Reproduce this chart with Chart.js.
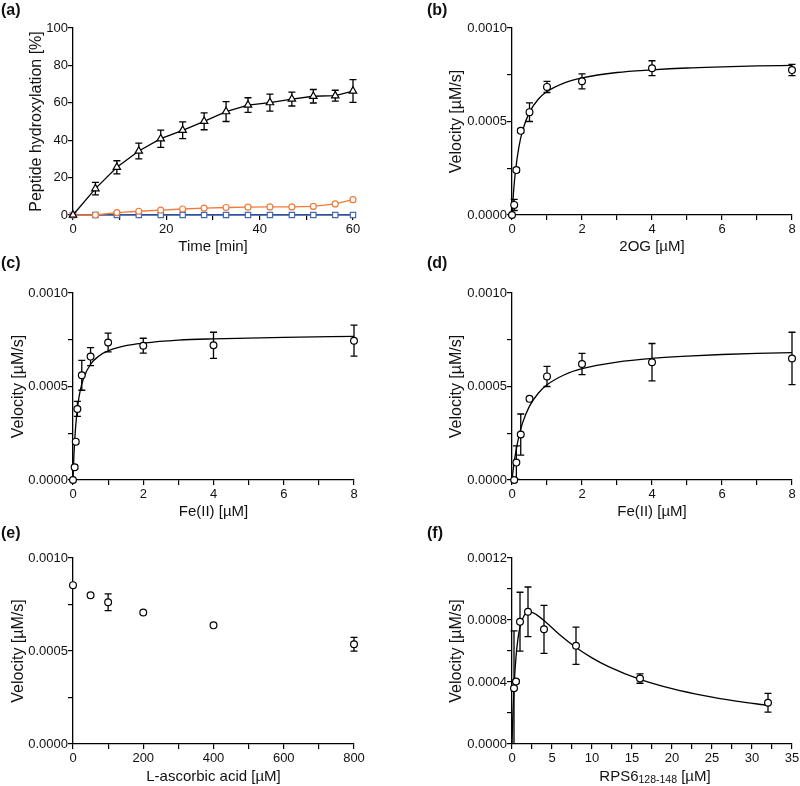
<!DOCTYPE html>
<html>
<head>
<meta charset="utf-8">
<script src="https://cdn.jsdelivr.net/npm/chart.js@4.4.0/dist/chart.umd.min.js"></script>
<style>
  body { margin: 0; background: #fff; }
  #fig { position: relative; width: 800px; height: 786px; font-family: 'Liberation Sans', Arial, sans-serif; }
  canvas { position: absolute; }
  .tag { position: absolute; font-weight: bold; font-size: 16px; color: #111; }
</style>
</head>
<body>
<div id="fig">
  <canvas id="pa" width="400" height="256" style="left:0;top:0"></canvas>
  <canvas id="pb" width="400" height="256" style="left:400px;top:0"></canvas>
  <canvas id="pc" width="400" height="256" style="left:0;top:265px"></canvas>
  <canvas id="pd" width="400" height="256" style="left:400px;top:265px"></canvas>
  <canvas id="pe" width="400" height="256" style="left:0;top:530px"></canvas>
  <canvas id="pf" width="400" height="256" style="left:400px;top:530px"></canvas>
  <div class="tag" style="left:1px;top:1px">(a)</div>
  <div class="tag" style="left:427px;top:1px">(b)</div>
  <div class="tag" style="left:1px;top:254px">(c)</div>
  <div class="tag" style="left:427px;top:254px">(d)</div>
  <div class="tag" style="left:1px;top:524px">(e)</div>
  <div class="tag" style="left:427px;top:524px">(f)</div>
</div>
<script>
// (a) time course
var timeMin = [0, 4.8, 9.4, 14.1, 18.8, 23.5, 28.1, 32.8, 37.5, 42.2, 46.9, 51.5, 56.2, 60];
var hydroxBlack = [0, 14.1, 25.5, 34.2, 40.8, 45.3, 50.1, 55.3, 58.8, 60.1, 62.0, 63.5, 63.8, 66.3];
var hydroxBlackErr = [0, 3.3, 3.5, 4.2, 4.6, 4.5, 4.5, 5.3, 3.9, 4.5, 3.7, 3.6, 2.9, 6.1];
var hydroxOrange = [0, 0, 1.3, 2.0, 2.6, 3.2, 3.7, 4.0, 4.2, 4.3, 4.3, 4.6, 5.9, 8.2];
var hydroxBlue = [0, 0, 0, 0, 0, 0, 0, 0, 0, 0, 0, 0, 0, 0];

// (b) 2OG
var ogConc = [0, 0.0625, 0.125, 0.25, 0.5, 1, 2, 4, 8];
var ogVel = [0, 0.000054, 0.00024, 0.00045, 0.00055, 0.000685, 0.000715, 0.000785, 0.000775];
var ogErr = [0, 0.00003, 0.00001, 0.00001, 0.00005, 0.00003, 0.00004, 0.00004, 0.00003];
var ogFitX = [0, 0.05, 0.1, 0.2, 0.3, 0.5, 0.75, 1, 1.5, 2, 3, 4, 5, 6, 7, 8];
var ogFitY = [0, 0.000138, 0.000236, 0.000367, 0.00045, 0.00055, 0.000619, 0.00066, 0.000707, 0.000733, 0.000762, 0.000776, 0.000786, 0.000792, 0.000797, 0.0008];

// (c) Fe(II)
var feConc = [0, 0.047, 0.078, 0.125, 0.25, 0.5, 1, 2, 4, 8];
var feVel = [0, 0.000068, 0.000205, 0.00038, 0.00056, 0.00066, 0.000735, 0.000718, 0.00072, 0.000745];
var feErr = [0, 0.00001, 0.00001, 0.00004, 0.00008, 0.000048, 0.00005, 0.00004, 0.00007, 0.000083];
var feFitX = [0, 0.025, 0.05, 0.1, 0.15, 0.2, 0.3, 0.5, 0.75, 1, 1.5, 2, 3, 4, 6, 8];
var feFitY = [0, 0.000126, 0.000217, 0.000339, 0.000418, 0.000473, 0.000544, 0.000619, 0.000665, 0.00069, 0.000718, 0.000732, 0.000748, 0.000755, 0.000763, 0.000768];

// (d) Fe(II), second set
var fe2Conc = [0.0625, 0.125, 0.25, 0.5, 1, 2, 4, 8];
var fe2Vel = [0, 0.000093, 0.000243, 0.000434, 0.000554, 0.00062, 0.00063, 0.00065];
var fe2Err = [0, 0.00009, 0.00011, 0.00001, 0.000054, 0.000057, 0.0001, 0.00014];
var fe2FitX = [0, 0.05, 0.1, 0.2, 0.3, 0.5, 0.75, 1, 1.5, 2, 3, 4, 5, 6, 7, 8];
var fe2FitY = [0, 0.000078, 0.000141, 0.000236, 0.000304, 0.000395, 0.000464, 0.000509, 0.000563, 0.000595, 0.00063, 0.00065, 0.000662, 0.000671, 0.000677, 0.000681];

// (e) L-ascorbic acid
var ascConc = [0, 50, 100, 200, 400, 800];
var ascVel = [0.000854, 0.0008, 0.000762, 0.000707, 0.000638, 0.000536];
var ascErr = [0, 0, 0.000045, 0, 0, 0.000037];

// (f) RPS6 peptide
var rpsConc = [0.25, 0.5, 1, 2, 4, 8, 16, 32];
var rpsVel = [0.00036, 0.000403, 0.000789, 0.000853, 0.00074, 0.000634, 0.000422, 0.000266];
var rpsErr = [0.00037, 0.00001, 0.00019, 0.00016, 0.000155, 0.00012, 0.00003, 0.00006];
var rpsFitX = [0, 0.1, 0.25, 0.5, 0.75, 1, 1.5, 2, 2.5, 3, 4, 5, 6, 8, 10, 12, 16, 20, 24, 28, 32];
var rpsFitY = [0, 0.000174, 0.000362, 0.000562, 0.000681, 0.000754, 0.000827, 0.00085, 0.000849, 0.000836, 0.000796, 0.00075, 0.000704, 0.000623, 0.000556, 0.000501, 0.000417, 0.000357, 0.000312, 0.000277, 0.000249];

// tick values
var timeTicks = [0, 20, 40, 60], timeMinor = [10, 30, 50];
var pctTicks = [0, 20, 40, 60, 80, 100];
var concTicks = [0, 2, 4, 6, 8], concMinor = [1, 3, 5, 7];
var ascTicks = [0, 200, 400, 600, 800], ascMinor = [100, 300, 500, 700];
var rpsTicks = [0, 5, 10, 15, 20, 25, 30, 35], rpsMinor = [2.5, 7.5, 12.5, 17.5, 22.5, 27.5, 32.5];
var velTicks = [0, 0.0005, 0.001], velMinor = [0.00025, 0.00075];
var velTicksF = [0, 0.0004, 0.0008, 0.0012], velMinorF = [0.0002, 0.0006, 0.001];

Chart.defaults.font.family = "'Liberation Sans', Arial, Helvetica, sans-serif";
Chart.defaults.color = '#111';
Chart.defaults.animation = false;

var orange = '#f07a3a';
var blue = '#4468bd';

function pts(xs, ys) {
    return xs.map(function(x, i) { return {x: x, y: ys[i]}; });
}

// error bars drawn underneath the markers
var errorBars = {
    id: 'errorBars',
    beforeDatasetsDraw: function(chart) {
        var ctx = chart.ctx, xs = chart.scales.x, ys = chart.scales.y;
        chart.data.datasets.forEach(function(ds) {
            if (!ds.errors) return;
            ctx.save();
            ctx.strokeStyle = ds.borderColor;
            ctx.lineWidth = 1.3;
            ds.data.forEach(function(p, j) {
                var e = ds.errors[j];
                if (!e) return;
                var px = xs.getPixelForValue(p.x);
                var top = ys.getPixelForValue(p.y + e);
                var low = p.y - e;
                var bot = ys.getPixelForValue(Math.max(low, ys.min));
                ctx.beginPath();
                ctx.moveTo(px, top); ctx.lineTo(px, bot);
                ctx.moveTo(px - 3.5, top); ctx.lineTo(px + 3.5, top);
                if (low >= ys.min) { ctx.moveTo(px - 3.5, bot); ctx.lineTo(px + 3.5, bot); }
                ctx.stroke();
            });
            ctx.restore();
        });
    }
};

function noPad(s) {
    s.paddingLeft = 0; s.paddingRight = 0; s.paddingTop = 0; s.paddingBottom = 0;
}

function axis(min, max, major, minor, fmt, title, isY, size) {
    return {
        type: 'linear',
        min: min,
        max: max,
        afterBuildTicks: function(s) {
            s.ticks = major.concat(minor).sort(function(a, b) { return a - b; })
                .map(function(v) { return {value: v}; });
        },
        afterFit: function(s) {
            if (isY) s.width = size; else s.height = size;
            noPad(s);
        },
        ticks: {
            autoSkip: false,
            maxRotation: 0,
            padding: isY ? 0 : 2,
            color: '#111',
            font: {size: 13},
            callback: function(v) { return major.indexOf(v) >= 0 ? fmt(v) : ''; }
        },
        grid: {drawOnChartArea: false, drawTicks: true, tickLength: 5, color: '#000', lineWidth: 1.2},
        border: {color: '#000', width: 1.3},
        title: {
            display: !!title,
            text: title,
            color: '#111',
            font: {size: isY ? 16 : 15},
            padding: {top: 0, bottom: 0}
        }
    };
}

function plain(v) { return String(v); }
function four(v) { return v.toFixed(4); }

function markers(xs, ys, errs, style, color, radius, line) {
    return {
        data: pts(xs, ys),
        errors: errs,
        showLine: line,
        borderColor: color,
        borderWidth: 1.3,
        pointStyle: style,
        pointRadius: radius,
        pointBackgroundColor: '#fff',
        pointBorderColor: color,
        pointBorderWidth: 1.2,
        tension: 0,
        clip: false
    };
}

function fitLine(xs, ys) {
    return {
        data: pts(xs, ys),
        showLine: true,
        borderColor: '#000',
        borderWidth: 1.3,
        pointRadius: 0,
        cubicInterpolationMode: 'monotone',
        clip: false
    };
}

function panel(id, pad, xAx, yAx, datasets, extra) {
    return new Chart(document.getElementById(id), {
        type: 'scatter',
        data: {datasets: datasets},
        options: {
            responsive: false,
            animation: false,
            events: [],
            layout: {padding: pad},
            plugins: {legend: {display: false}, tooltip: {enabled: false}},
            scales: {x: xAx, y: yAx}
        },
        plugins: [errorBars].concat(extra || [])
    });
}

// RPS6 title with subscript
var rpsTitle = {
    id: 'rpsTitle',
    afterDraw: function(chart) {
        var ctx = chart.ctx, a = chart.chartArea;
        var big = "15px 'Liberation Sans', Arial, sans-serif";
        var small = "10.5px 'Liberation Sans', Arial, sans-serif";
        var p1 = 'RPS6', p2 = '128-148', p3 = ' [\u00b5M]';
        ctx.save();
        ctx.fillStyle = '#111';
        ctx.textBaseline = 'alphabetic';
        ctx.font = big;
        var w1 = ctx.measureText(p1).width, w3 = ctx.measureText(p3).width;
        ctx.font = small;
        var w2 = ctx.measureText(p2).width;
        var x = (a.left + a.right) / 2 + 3 - (w1 + w2 + w3) / 2;
        var y = a.bottom + 37;
        ctx.font = big; ctx.fillText(p1, x, y);
        ctx.font = small; ctx.fillText(p2, x + w1, y + 2);
        ctx.font = big; ctx.fillText(p3, x + w1 + w2, y);
        ctx.restore();
    }
};

panel('pa', {left: 27, right: 47, top: 28, bottom: 0},
    axis(0, 60, timeTicks, timeMinor, plain, 'Time [min]', false, 41),
    axis(0, 100, pctTicks, [], plain, 'Peptide hydroxylation [%]', true, 46),
    [
        markers(timeMin, hydroxBlack, hydroxBlackErr, 'triangle', '#000', 4.3, true),
        markers(timeMin, hydroxOrange, null, 'circle', orange, 3, true),
        markers(timeMin, hydroxBlue, null, 'rect', blue, 3.8, true)
    ]);

panel('pb', {left: 47, right: 8, top: 28, bottom: 0},
    axis(0, 8, concTicks, concMinor, plain, '2OG [\u00b5M]', false, 41),
    axis(0, 0.001, velTicks, velMinor, four, 'Velocity [\u00b5M/s]', true, 65),
    [markers(ogConc, ogVel, ogErr, 'circle', '#000', 3.4, false), fitLine(ogFitX, ogFitY)]);

panel('pc', {left: 9, right: 46, top: 28, bottom: 0},
    axis(0, 8, concTicks, concMinor, plain, 'Fe(II) [\u00b5M]', false, 41),
    axis(0, 0.001, velTicks, velMinor, four, 'Velocity [\u00b5M/s]', true, 64),
    [markers(feConc, feVel, feErr, 'circle', '#000', 3.4, false), fitLine(feFitX, feFitY)]);

panel('pd', {left: 47, right: 8, top: 28, bottom: 0},
    axis(0, 8, concTicks, concMinor, plain, 'Fe(II) [\u00b5M]', false, 41),
    axis(0, 0.001, velTicks, velMinor, four, 'Velocity [\u00b5M/s]', true, 65),
    [markers(fe2Conc, fe2Vel, fe2Err, 'circle', '#000', 3.4, false), fitLine(fe2FitX, fe2FitY)]);

panel('pe', {left: 9, right: 46, top: 28, bottom: 0},
    axis(0, 800, ascTicks, ascMinor, plain, 'L-ascorbic acid [\u00b5M]', false, 42),
    axis(0, 0.001, velTicks, velMinor, four, 'Velocity [\u00b5M/s]', true, 64),
    [markers(ascConc, ascVel, ascErr, 'circle', '#000', 3.4, false)]);

panel('pf', {left: 47, right: 8, top: 28, bottom: 0},
    axis(0, 35, rpsTicks, rpsMinor, plain, '', false, 42),
    axis(0, 0.0012, velTicksF, velMinorF, four, 'Velocity [\u00b5M/s]', true, 65),
    [markers(rpsConc, rpsVel, rpsErr, 'circle', '#000', 3.4, false), fitLine(rpsFitX, rpsFitY)],
    [rpsTitle]);
</script>
</body>
</html>
